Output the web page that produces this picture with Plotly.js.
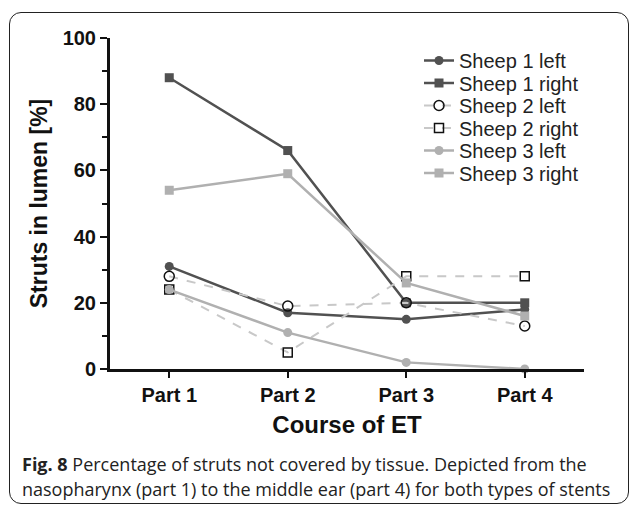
<!DOCTYPE html>
<html><head><meta charset="utf-8">
<script src="https://cdn.plot.ly/plotly-3.0.1.min.js"></script>
<style>
html,body{margin:0;padding:0;background:#fff;}
#wrap{position:relative;width:630px;height:508px;overflow:hidden;}
#frame{position:absolute;left:9px;top:12px;width:620px;height:492px;border:1.5px solid #222;border-radius:12px;box-sizing:border-box;}
#chart{position:absolute;left:0;top:0;width:630px;height:508px;}
</style></head>
<body><div id="wrap"><div id="frame"></div><div id="chart"></div></div>
<script>
const categories = ["Part 1","Part 2","Part 3","Part 4"];
const seriesNames = ["Sheep 1 left","Sheep 1 right","Sheep 2 left","Sheep 2 right","Sheep 3 left","Sheep 3 right"];
const sheep1Left  = [31, 17, 15, 18];
const sheep1Right = [88, 66, 20, 20];
const sheep2Left  = [28, 19, 20, 13];
const sheep2Right = [24, 5, 28, 28];
const sheep3Left  = [24, 11, 2, 0];
const sheep3Right = [54, 59, 26, 16];
const yTicks = [0, 20, 40, 60, 80, 100];

const W = 630, H = 508, ML = 110, MR = 46, MT = 38, MB = 139;
const PW = W - ML - MR, PH = H - MT - MB;
const px2x = p => (p - ML) / PW;
const px2y = p => (H - MB - p) / PH;

const dark = "#515151", light = "#b0b0b0", dashLight = "#c8c8c8";
const styles = [
  {line:{color:dark,width:2.5}, marker:{symbol:"circle",size:9,color:dark}},
  {line:{color:dark,width:2.5}, marker:{symbol:"square",size:9,color:dark}},
  {line:{color:dashLight,width:2,dash:"dash"}, marker:{symbol:"circle-open",size:10,color:"#111",line:{width:1.5}}},
  {line:{color:dashLight,width:2,dash:"dash"}, marker:{symbol:"square-open",size:9,color:"#111",line:{width:1.5}}},
  {line:{color:light,width:2.5}, marker:{symbol:"circle",size:9,color:light}},
  {line:{color:light,width:2.5}, marker:{symbol:"square",size:9,color:light}}
];
const values = [sheep1Left, sheep1Right, sheep2Left, sheep2Right, sheep3Left, sheep3Right];
const legendRowsPx = [60.5, 83, 105.5, 128, 150.5, 173];
const legendXPx = 419;

const traces = [];
const layout = {
  width:W, height:H,
  margin:{l:ML, r:MR, t:MT, b:MB},
  paper_bgcolor:"rgba(0,0,0,0)", plot_bgcolor:"rgba(0,0,0,0)",
  font:{family:"Liberation Sans, Arial, sans-serif", color:"#111"},
  showlegend:true,
  xaxis:{
    range:[-0.5, 3.5], tickvals:[0,1,2,3], ticktext:categories,
    showgrid:false, zeroline:false, showline:true, linecolor:"#111", linewidth:3,
    ticks:"outside", ticklen:6, tickwidth:2, tickcolor:"#111",
    tickfont:{size:20, weight:"bold", color:"#111"},
    title:{text:"<b>Course of ET</b>", font:{size:24}, standoff:12}
  },
  yaxis:{
    range:[0,100], tickvals:yTicks, showgrid:false, zeroline:false,
    showline:true, linecolor:"#111", linewidth:3,
    ticks:"outside", ticklen:7, tickwidth:2, tickcolor:"#111",
    minor:{dtick:10, ticks:"outside", ticklen:5, tickwidth:2, tickcolor:"#111"},
    tickfont:{size:20, weight:"bold", color:"#111"},
    title:{text:"<b>Struts in lumen [%]</b>", font:{size:23}, standoff:9}
  },
  annotations:[
    {xref:"paper", yref:"paper", x:px2x(20), y:px2y(464), xanchor:"left", yanchor:"middle", showarrow:false, align:"left",
     text:"<b>Fig. 8</b> Percentage of struts not covered by tissue. Depicted from the",
     font:{family:"Open Sans, Noto Sans, sans-serif", size:18, color:"#222"}},
    {xref:"paper", yref:"paper", x:px2x(20), y:px2y(489), xanchor:"left", yanchor:"middle", showarrow:false, align:"left",
     text:"nasopharynx (part 1) to the middle ear (part 4) for both types of stents",
     font:{family:"Open Sans, Noto Sans, sans-serif", size:18, color:"#222"}}
  ]
};
values.forEach((v,i)=>{
  const lg = i === 0 ? "legend" : "legend" + (i+1);
  traces.push(Object.assign({
    type:"scatter", mode:"lines+markers", name:seriesNames[i],
    x:[0,1,2,3], y:v, cliponaxis:false, legend:lg
  }, styles[i]));
  layout[lg] = {x:px2x(legendXPx), y:px2y(legendRowsPx[i]), xanchor:"left", yanchor:"middle",
    bgcolor:"rgba(0,0,0,0)", font:{size:20, color:"#222"}, itemwidth:30};
});
Plotly.newPlot("chart", traces, layout, {displayModeBar:false, staticPlot:true});
</script></body></html>
